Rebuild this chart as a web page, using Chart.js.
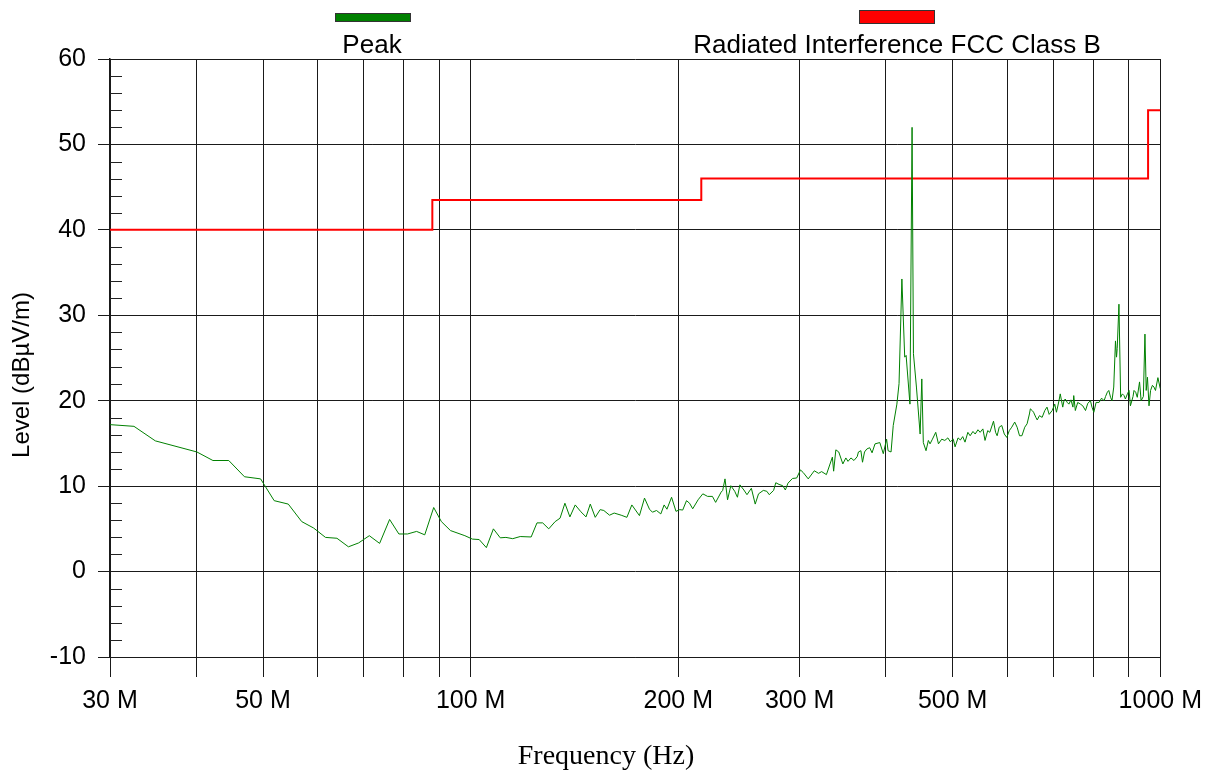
<!DOCTYPE html>
<html>
<head>
<meta charset="utf-8">
<script src="https://cdn.jsdelivr.net/npm/chart.js@4"></script>
<style>body{margin:0;background:#fff}</style>
</head>
<body>
<canvas id="grafico" width="1211" height="772"></canvas>
<script>
// Barrido de emisiones radiadas (MHz / dBµV/m)
const peakFreq = [
  30, 32.5, 34.9, 40.1, 42.3, 44.6, 47.0, 49.6, 51.9, 54.4, 56.9, 59.2, 61.6, 64.0, 66.5, 68.8,
  71.3, 73.8, 76.3, 78.7, 81.0, 83.5, 85.8, 88.4, 90.7, 93.5, 98.1, 100.6, 102.9, 105.4, 107.9,
  110.4, 112.5, 115.1, 118, 122.4, 124.8, 127.2, 129.8, 132.6, 134.8, 137, 139.3, 141.8, 144.5,
  147, 149.1, 151.6, 154.1, 156, 159, 161.5, 165.3, 168.5, 171.3, 175.7, 178.7, 181.7, 183.5,
  186, 188.7, 190.8, 192.6, 195.6, 198.5, 201, 203, 205.6, 207.7, 209.9, 213.7, 217.1, 220.6,
  224.2, 226.6, 230.8, 232, 233.8, 235.8, 238.4, 241.5, 243.7, 245.7, 249, 251.6, 255.3, 258.6,
  261.5, 265.7, 268.8, 271, 275, 277, 280, 283.5, 286, 288.5, 292.9, 297, 300.8, 303.5, 308.7,
  315, 319.5, 322.8, 328, 334.6, 336, 338.5, 341.8, 346.5, 350, 352.5, 356, 359.6, 363.5, 365,
  368, 370, 372.5, 375.4, 379, 382, 385.8, 392, 396.6, 401, 403, 407, 410, 415, 418, 422,
  426, 428, 433.5, 436.6, 438.6, 443, 448.5, 451, 453.3, 457.4, 461, 463.6, 467.3, 472.5, 476.8,
  482, 487, 492, 496, 501, 504, 509, 513, 517, 521, 526, 530, 535, 539, 544, 548, 553, 557,
  562, 566, 573, 577, 580, 584, 589, 594, 599, 604, 609, 615, 620, 625, 630, 636, 641, 646,
  648, 652, 655, 660, 663, 668, 674, 680, 685, 690, 697, 703, 707, 713, 716, 722, 725, 728,
  733, 737, 742, 747, 749, 753, 759, 766, 772, 779, 785, 792, 796, 801, 807, 815, 822, 829,
  833, 838, 842, 847, 851, 856, 861, 864, 866, 871, 876, 881, 886, 890, 896, 901, 905, 913,
  916, 921, 926, 933, 938, 945, 950, 954, 958, 963, 968, 974, 979, 984, 992, 1000
];
const peakLevel = [
  17.2, 17.0, 15.3, 14.0, 13.0, 13.0, 11.1, 10.85, 8.3, 7.9, 5.85, 5.1, 4.0, 3.9, 2.9, 3.35,
  4.2, 3.3, 6.1, 4.4, 4.4, 4.7, 4.3, 7.5, 5.85, 4.8, 4.2, 3.8, 3.75, 2.8, 5.0,
  3.95, 4.0, 3.85, 4.1, 4.05, 5.7, 5.7, 5.0, 5.85, 6.25, 8.0, 6.4, 7.8, 7.0,
  6.4, 7.9, 6.35, 7.25, 7.15, 6.6, 6.85, 6.6, 6.35, 7.8, 6.55, 8.6, 7.3, 6.95,
  7.15, 6.75, 7.8, 7.3, 8.7, 7.05, 7.25, 7.2, 8.3, 8.0, 7.35, 8.4, 9.1, 8.8,
  8.8, 8.1, 9.3, 9.5, 10.85, 8.4, 10.05, 9.4, 8.7, 10.15, 9.55, 9.0, 9.75, 7.9,
  9.1, 9.5, 9.4, 9.0, 9.5, 10.4, 10.2, 10.05, 9.55, 10.35, 10.9, 10.95, 11.9, 11.6, 10.85,
  11.8, 11.5, 11.7, 11.35, 13.4, 11.75, 14.25, 14.0, 12.6, 13.3, 12.9, 13.3, 13.0, 13.45, 14.0,
  14.15, 12.8, 14.0, 14.35, 14.5, 13.9, 14.95, 15.1, 13.8, 15.5, 14.15, 14.0, 17.1, 19.6, 22.0, 34.25,
  25.1, 25.3, 19.6, 52.0, 25.5, 21.6, 16.1, 22.55, 15.1, 14.15, 15.35, 14.95, 15.5, 16.3, 14.95,
  15.5, 15.35, 15.65, 15.2, 15.5, 14.6, 15.65, 15.4, 15.8, 15.15, 16.3, 15.9, 16.4, 16.1, 16.6, 16.3, 16.7, 15.35,
  16.5, 16.3, 17.6, 16.3, 15.9, 16.9, 17.1, 16.1, 15.7, 16.5, 16.9, 17.5, 16.9, 15.9, 15.9, 16.9, 17.3, 18.45,
  19.05, 18.85, 18.65, 18.05, 17.75, 18.25, 18.05, 18.85, 19.25, 18.4, 18.85, 19.6, 18.65, 20.0, 20.8, 19.25, 20.0, 20.2,
  19.8, 19.6, 20.1, 19.25, 20.6, 18.85, 19.8, 19.6, 19.4, 18.85, 19.7, 20.0, 19.25, 18.65, 19.8, 19.8, 20.3, 20.0,
  20.5, 21.0, 21.2, 20.4, 20.0, 21.6, 27.0, 25.1, 26.1, 31.3, 20.4, 20.8, 20.6, 20.2, 20.8, 21.2, 19.4, 20.5,
  21.2, 21.0, 20.4, 22.2, 20.0, 20.5, 27.8, 21.2, 22.75, 19.4, 21.2, 21.8, 21.6, 21.2, 22.7, 21.4
];

// Límite FCC clase B (escalonado)
const limitFreq = [30, 88, 216, 960, 1000];
const limitLevel = [40, 43.5, 46, 54, 54];

const xTicks = [30, 40, 50, 60, 70, 80, 90, 100, 200, 300, 400, 500, 600, 700, 800, 900, 1000];
const xLabeled = [30, 50, 100, 200, 300, 500, 1000];

const sans = '"Liberation Sans", Arial, sans-serif';

const extras = {
  id: "extras",
  afterDraw(chart) {
    const ctx = chart.ctx;
    const y = chart.scales.y;
    const left = chart.chartArea.left;
    ctx.save();
    // marcas menores del eje Y cada 2 dB
    ctx.strokeStyle = "#222";
    ctx.lineWidth = 1;
    for (let v = -8; v < 60; v += 2) {
      if (v % 10 === 0) continue;
      const py = Math.round(y.getPixelForValue(v)) + 0.5;
      ctx.beginPath();
      ctx.moveTo(left, py);
      ctx.lineTo(left + 12, py);
      ctx.stroke();
    }
    // leyenda
    ctx.fillStyle = "#008000";
    ctx.fillRect(335, 13, 75, 8);
    ctx.strokeStyle = "#333";
    ctx.strokeRect(335.5, 13.5, 75, 8);
    ctx.fillStyle = "#ff0000";
    ctx.fillRect(859, 10, 75, 13);
    ctx.strokeRect(859.5, 10.5, 75, 13);
    ctx.fillStyle = "#000";
    ctx.font = "26px " + sans;
    ctx.textAlign = "center";
    ctx.textBaseline = "alphabetic";
    ctx.fillText("Peak", 372, 53);
    ctx.fillText("Radiated Interference FCC Class B", 897, 53);
    // títulos de ejes
    ctx.textBaseline = "middle";
    ctx.font = '28px "Liberation Serif", "Times New Roman", serif';
    ctx.fillText("Frequency (Hz)", 606, 757);
    ctx.translate(22, 375);
    ctx.rotate(-Math.PI / 2);
    ctx.font = "24px " + sans;
    ctx.fillText("Level (dBµV/m)", 0, 0);
    ctx.restore();
  }
};

const ctxGrafico = document.getElementById("grafico");
new Chart(ctxGrafico, {
  type: "line",
  data: {
    datasets: [
      {
        label: "Peak",
        data: peakFreq.map((f, i) => ({ x: f, y: peakLevel[i] })),
        borderColor: "#008000",
        borderWidth: 1,
        pointRadius: 0,
        tension: 0
      },
      {
        label: "Radiated Interference FCC Class B",
        data: limitFreq.map((f, i) => ({ x: f, y: limitLevel[i] })),
        borderColor: "#ff0000",
        borderWidth: 2,
        pointRadius: 0,
        stepped: true
      }
    ]
  },
  options: {
    responsive: false,
    animation: false,
    devicePixelRatio: 1,
    layout: { padding: { top: 59, right: 30, left: 0, bottom: 0 } },
    plugins: { legend: { display: false }, tooltip: { enabled: false } },
    scales: {
      x: {
        type: "logarithmic",
        min: 30,
        max: 1000,
        afterBuildTicks: s => { s.ticks = xTicks.map(v => ({ value: v })); },
        afterFit: s => { s.height = 115; },
        ticks: {
          autoSkip: false,
          maxRotation: 0,
          padding: 9,
          color: "#000",
          font: { family: sans, size: 25 },
          callback: v => xLabeled.includes(v) ? v + " M" : ""
        },
        grid: { color: "#1a1a1a", lineWidth: 1, tickLength: 20 },
        border: { color: "#1a1a1a" }
      },
      y: {
        min: -10,
        max: 60,
        afterFit: s => { s.width = 110; },
        ticks: {
          stepSize: 10,
          padding: 12,
          color: "#000",
          font: { family: sans, size: 25 }
        },
        grid: { color: "#1a1a1a", lineWidth: 1, tickLength: 12 },
        border: { color: "#1a1a1a", width: 1.5 }
      }
    }
  },
  plugins: [extras]
});
</script>
</body>
</html>
